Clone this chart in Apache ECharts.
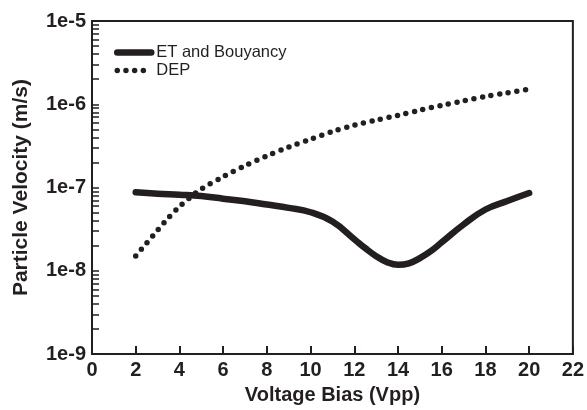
<!DOCTYPE html>
<html>
<head>
<meta charset="utf-8">
<script src="https://cdn.jsdelivr.net/npm/echarts@6/dist/echarts.min.js"></script>
<style>
html,body{margin:0;padding:0;background:#fff;}
#chart{width:587px;height:410px;}
</style>
</head>
<body>
<div id="chart"></div>
<script>
// ---- data ----
const etX = [2, 3, 4, 5, 6, 7, 8, 9, 10, 11, 12, 12.5, 13, 13.5, 14, 14.5, 15, 15.5, 16, 17, 18, 19, 20];
const etY = [8.8e-8, 8.45e-8, 8.2e-8, 7.9e-8, 7.35e-8, 6.85e-8, 6.25e-8, 5.7e-8, 5.05e-8, 3.9e-8, 2.4e-8, 1.87e-8, 1.5e-8, 1.27e-8, 1.18e-8, 1.23e-8, 1.42e-8, 1.72e-8, 2.2e-8, 3.6e-8, 5.45e-8, 6.9e-8, 8.6e-8];
const depX = [2, 2.5, 3, 3.5, 4, 4.5, 5, 6, 7, 8, 9, 10, 11, 12, 13, 14, 15, 16, 17, 18, 19, 20];
const depY = [1.51e-8, 2.15e-8, 3.07e-8, 4.35e-8, 5.9e-8, 7.65e-8, 9.6e-8, 1.35e-7, 1.83e-7, 2.4e-7, 3.07e-7, 3.8e-7, 4.7e-7, 5.6e-7, 6.47e-7, 7.35e-7, 8.5e-7, 9.7e-7, 1.1e-6, 1.24e-6, 1.37e-6, 1.52e-6];
const seriesNames = ['ET and Bouyancy', 'DEP'];
const yMajorTicks = [1e-9, 1e-8, 1e-7, 1e-6, 1e-5];
const yMinorMultipliers = [2, 3, 4, 5, 6, 7, 8, 9];
const xTitle = 'Voltage Bias (Vpp)';
const yTitle = 'Particle Velocity (m/s)';

const ink = '#231f20';
const yTickValues = [];
yMajorTicks.forEach((m, i) => {
  yTickValues.push(m);
  if (i < yMajorTicks.length - 1) yMinorMultipliers.forEach(k => yTickValues.push(+(k * m).toPrecision(3)));
});

const chart = echarts.init(document.getElementById('chart'), null, {renderer: 'canvas'});
const dotDash = [0, 8.7];
const font = 'Liberation Sans, Arial, sans-serif';
chart.setOption({
  backgroundColor: '#fff',
  animation: false,
  grid: {left: 92, right: 13, top: 21, bottom: 52, show: true, borderColor: ink, borderWidth: 2},
  legend: {
    show: true, padding: 0,
    left: 114, top: 44, orient: 'vertical', itemWidth: 34, itemHeight: 14, itemGap: 1,
    textStyle: {fontFamily: font, fontSize: 16.5, color: ink},
    data: [
      {name: seriesNames[0], itemStyle: {opacity: 0}, lineStyle: {width: 6.5, color: ink, cap: 'round', type: 'solid'}},
      {name: seriesNames[1], itemStyle: {opacity: 0}, lineStyle: {width: 5.5, color: ink, cap: 'round', type: dotDash}}
    ]
  },
  xAxis: {
    type: 'value', min: 0, max: 22, interval: 2,
    name: xTitle, nameLocation: 'middle', nameGap: 30,
    nameTextStyle: {fontFamily: font, fontSize: 20, fontWeight: 'bold', color: ink},
    axisLine: {lineStyle: {color: ink, width: 2}},
    axisTick: {inside: true, length: 8, lineStyle: {color: ink, width: 2}},
    axisLabel: {margin: 6, fontFamily: font, fontSize: 20, fontWeight: 'bold', color: ink},
    splitLine: {show: false}
  },
  yAxis: {
    type: 'log', logBase: 10, min: 1e-9, max: 1e-5,
    name: yTitle, nameLocation: 'middle', nameGap: 60, nameRotate: 90,
    nameTextStyle: {fontFamily: font, fontSize: 21, fontWeight: 'bold', color: ink},
    axisLine: {show: true, lineStyle: {color: ink, width: 2}},
    axisTick: {show: true, inside: true, length: 7, customValues: yTickValues, lineStyle: {color: ink, width: 1.5}},
    axisLabel: {
      margin: 6, customValues: yMajorTicks,
      fontFamily: font, fontSize: 20, fontWeight: 'bold', color: ink,
      formatter: v => '1e' + Math.round(Math.log10(v))
    },
    splitLine: {show: false}
  },
  series: [
    {
      name: seriesNames[0], type: 'line', symbol: 'none', smooth: 0.45,
      lineStyle: {width: 6.5, color: ink, cap: 'round', join: 'round'},
      itemStyle: {color: ink},
      data: etX.map((x, i) => [x, etY[i]])
    },
    {
      name: seriesNames[1], type: 'line', symbol: 'none', smooth: 0.3,
      lineStyle: {width: 5.5, color: ink, type: dotDash, cap: 'round'},
      itemStyle: {color: ink},
      data: depX.map((x, i) => [x, depY[i]])
    }
  ]
});
</script>
</body>
</html>
